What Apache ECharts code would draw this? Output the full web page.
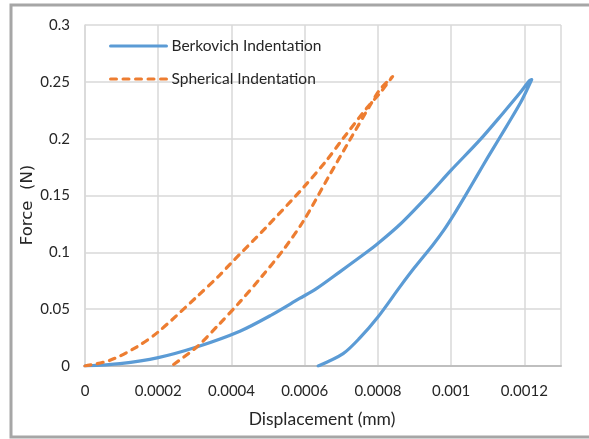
<!DOCTYPE html>
<html>
<head>
<meta charset="utf-8">
<script src="https://cdn.jsdelivr.net/npm/echarts@6/dist/echarts.min.js"></script>
<style>
  html, body { margin: 0; padding: 0; background: #fff; }
  #chart { width: 589px; height: 439px; }
</style>
</head>
<body>
<div id="chart"></div>
<script>
// Indentation force-displacement curves (loading then unloading)
const berkovichX = [0, 0.0000955, 0.0002, 0.000305, 0.000423, 0.000510, 0.000586, 0.000632, 0.000696, 0.000769, 0.0008, 0.00086, 0.000937, 0.001, 0.001078, 0.001141, 0.001187, 0.001214, 0.00122,
                    0.00121, 0.00119, 0.00116, 0.00113, 0.0011, 0.00107, 0.00104, 0.00101, 0.00098, 0.00095, 0.0009, 0.00086, 0.0008, 0.00075, 0.000705, 0.000637];
const berkovichY = [0, 0.0021, 0.0074, 0.0167, 0.0306, 0.045, 0.0594, 0.068, 0.0828, 0.1, 0.1078, 0.1245, 0.15, 0.1723, 0.1987, 0.2222, 0.2399, 0.2511, 0.252,
                    0.245, 0.232, 0.2155, 0.1995, 0.1835, 0.167, 0.1505, 0.1345, 0.1195, 0.1065, 0.0866, 0.0696, 0.0431, 0.0245, 0.0109, 0];

const sphericalX = [0, 0.0000682, 0.000141, 0.0002, 0.000305, 0.000368, 0.000398, 0.000496, 0.000598, 0.00066, 0.000705, 0.000769, 0.000805, 0.00084,
                    0.000805, 0.000778, 0.000723, 0.000668, 0.000598, 0.000541, 0.000482, 0.000423, 0.000368, 0.000305, 0.000236];
const sphericalY = [0, 0.005, 0.0167, 0.030, 0.0608, 0.08, 0.0902, 0.1224, 0.1576, 0.181, 0.2002, 0.2267, 0.2399, 0.2546,
                    0.243, 0.229, 0.1987, 0.168, 0.1283, 0.1019, 0.0784, 0.0564, 0.0373, 0.0167, 0];

const seriesNames = ['Berkovich Indentation', 'Spherical Indentation'];
const xTicks = { min: 0, max: 0.0013, step: 0.0002 };
const yTicks = { min: 0, max: 0.3, step: 0.05 };
const xTitle = 'Displacement (mm)';
const yTitle = 'Force  (N)';

const pairs = (xs, ys) => xs.map((x, i) => [x, ys[i]]);
const fmt = v => (v > 0.00125 && v < 0.00135) ? '' : String(parseFloat(v.toFixed(5)));

const face = "Lato, 'Liberation Sans', sans-serif";

const chart = echarts.init(document.getElementById('chart'));
chart.setOption({
  animation: false,
  backgroundColor: '#ffffff',
  grid: { left: 85, right: 28, top: 25, bottom: 73 },
  legend: {
    orient: 'vertical',
    left: 104,
    top: 33,
    itemWidth: 56,
    itemHeight: 14,
    itemGap: 17,
    data: seriesNames,
    itemStyle: { opacity: 0 },
    lineStyle: { width: 3 },
    textStyle: { fontFamily: face, fontSize: 15.5, color: '#262626' }
  },
  xAxis: {
    type: 'value',
    min: xTicks.min,
    max: xTicks.max,
    interval: xTicks.step,
    axisLine: { show: true, lineStyle: { color: '#bfbfbf', width: 2 } },
    axisTick: { show: false },
    splitLine: { show: true, lineStyle: { color: '#d9d9d9', width: 1.5 } },
    axisLabel: { formatter: fmt, margin: 18, fontFamily: face, fontSize: 15, color: '#262626' }
  },
  yAxis: {
    type: 'value',
    min: yTicks.min,
    max: yTicks.max,
    interval: yTicks.step,
    axisLine: { show: true, lineStyle: { color: '#d9d9d9', width: 1.5 } },
    axisTick: { show: false },
    splitLine: { show: true, lineStyle: { color: '#d9d9d9', width: 1.5 } },
    axisLabel: { formatter: fmt, margin: 15, fontFamily: face, fontSize: 15, color: '#262626' }
  },
  graphic: [
    {
      type: 'rect',
      shape: { x: 11, y: 5, width: 640, height: 432 },
      style: { fill: 'none', stroke: '#a6a6a6', lineWidth: 3 },
      silent: true
    },
    {
      type: 'text',
      x: 322, y: 419,
      style: { text: xTitle, fontFamily: face, fontSize: 17.5, fill: '#262626', align: 'center', verticalAlign: 'middle' }
    },
    {
      type: 'text',
      x: 28, y: 205,
      rotation: Math.PI / 2,
      style: { text: yTitle, fontFamily: "'DejaVu Sans', sans-serif", fontSize: 16.5, fill: '#262626', align: 'center', verticalAlign: 'middle' }
    }
  ],
  series: [
    {
      name: seriesNames[0],
      type: 'line',
      data: pairs(berkovichX, berkovichY),
      symbol: 'none',
      smooth: 0.3,
      lineStyle: { color: '#5b9bd5', width: 3.2, cap: 'round', join: 'round' },
      itemStyle: { color: '#5b9bd5' }
    },
    {
      name: seriesNames[1],
      type: 'line',
      data: pairs(sphericalX, sphericalY),
      symbol: 'none',
      smooth: 0.3,
      lineStyle: { color: '#ed7d31', width: 3.2, type: [6, 6.5], cap: 'round', join: 'round' },
      itemStyle: { color: '#ed7d31' }
    }
  ]
});
</script>
</body>
</html>
